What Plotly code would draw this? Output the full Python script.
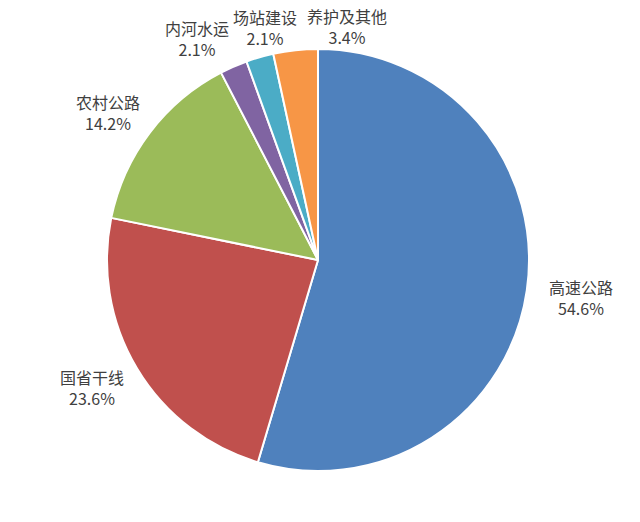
import math

import plotly.graph_objects as go

categories = ["高速公路", "国省干线", "农村公路", "内河水运", "场站建设", "养护及其他"]
shares = [54.6, 23.6, 14.2, 2.1, 2.1, 3.4]
colors = ["#4F81BD", "#C0504D", "#9BBB59", "#8064A2", "#4BACC6", "#F79646"]

W, H = 640, 522
# pie placement in figure pixels (the page adds an 8px body margin)
cx, cy, r = 310, 252, 211
label_k = 1.23
# hand nudges (right, down) in pixels, like the hand-placed labels in the original
nudges = [(6, 0), (-3, -6), (-3, 9), (-17, 16), (19, 17), (57, 25)]

fig = go.Figure(
    go.Pie(
        labels=categories,
        values=shares,
        sort=False,
        direction="clockwise",
        rotation=0,
        marker=dict(colors=colors, line=dict(color="white", width=2)),
        textinfo="none",
        hoverinfo="label+percent",
        showlegend=False,
        domain=dict(x=[(cx - r) / W, (cx + r) / W], y=[1 - (cy + r) / H, 1 - (cy - r) / H]),
    )
)

# labels placed around the pie, at each slice's mid angle
total = sum(shares)
start = 0.0
for name, val, (nx, ny) in zip(categories, shares, nudges):
    mid = (start + val / 2) / total * 2 * math.pi
    start += val
    px = cx + label_k * r * math.sin(mid)
    py = cy - label_k * r * math.cos(mid)
    fig.add_annotation(
        x=px / W,
        y=1 - py / H,
        xref="paper",
        yref="paper",
        xanchor="center",
        yanchor="middle",
        text=f"{name}<br>{val:.1f}%",
        showarrow=False,
        xshift=nx,
        yshift=-ny,
        font=dict(family="Noto Sans CJK SC", size=16, color="#404040"),
        align="center",
    )

fig.update_layout(
    width=W,
    height=H,
    margin=dict(l=0, r=0, t=0, b=0),
    paper_bgcolor="white",
)
fig.write_html("out.html")
